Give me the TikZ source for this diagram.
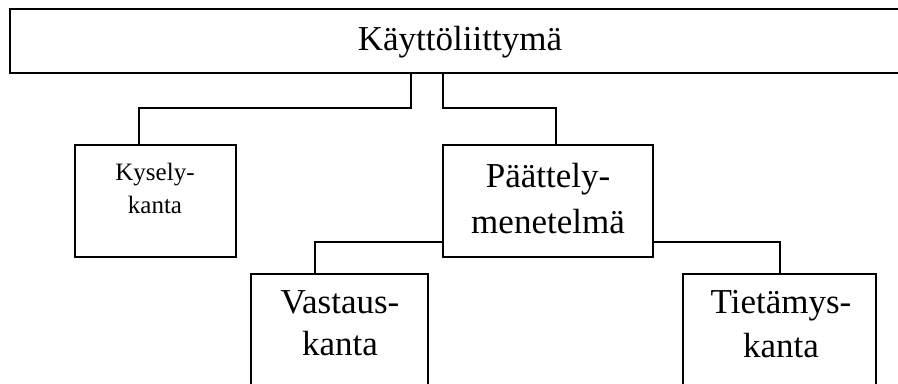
\documentclass[tikz,border=0pt]{standalone}
\usepackage{fontspec}
\setmainfont{Liberation Serif}
\begin{document}
\begin{tikzpicture}[x=1bp,y=-1bp,
  box/.style={draw, line width=1.6bp, rectangle, inner sep=0pt},
  link/.style={draw, line width=1.5bp},
  bigtxt/.style={align=center, inner sep=0pt, anchor=base,
    font=\fontsize{35bp}{44bp}\selectfont},
  smalltxt/.style={align=center, inner sep=0pt, anchor=base,
    font=\fontsize{25bp}{33bp}\selectfont}]
\clip (0,0) rectangle (898,383);
\fill[white] (0,0) rectangle (898,383);

% boxes
\node[box, minimum width=900bp, minimum height=64bp] (top) at (460,41) {};
\node[box, minimum width=161bp, minimum height=112bp] (kys) at (155.5,201) {};
\node[box, minimum width=210bp, minimum height=112bp] (pat) at (548,201) {};
\node[box, minimum width=177bp, minimum height=126bp] (vas) at (339.5,337) {};
\node[box, minimum width=193bp, minimum height=126bp] (tie) at (779.5,337) {};

% labels (base anchor sits on the last line)
\node[bigtxt] (tTop) at (460,50) {Käyttöliittymä};
\node[smalltxt] (tKys) at (155,213) {Kysely-\\kanta};
\node[bigtxt, font=\fontsize{35bp}{46bp}\selectfont] (tPat) at (548,233) {Päättely-\\menetelmä};
\node[bigtxt, font=\fontsize{35bp}{42bp}\selectfont] (tVas) at (340,355) {Vastaus-\\kanta};
\node[bigtxt, font=\fontsize{35bp}{44bp}\selectfont] (tTie) at (781,357) {Tietämys-\\kanta};

% junction points of the tree lines
\coordinate (jL) at (411,108);
\coordinate (jR) at (443,108);
\coordinate (cK) at (139,0);
\coordinate (cP) at (556,0);
\coordinate (hV) at (315,242);
\coordinate (hT) at (780,242);

% connectors
\draw[link] (top.south -| jL) -- (jL) -| (kys.north -| cK);
\draw[link] (top.south -| jR) -- (jR) -| (pat.north -| cP);
\draw[link] (pat.west |- hV) -| (vas.north -| hV);
\draw[link] (pat.east |- hT) -| (tie.north -| hT);
\end{tikzpicture}
\end{document}
